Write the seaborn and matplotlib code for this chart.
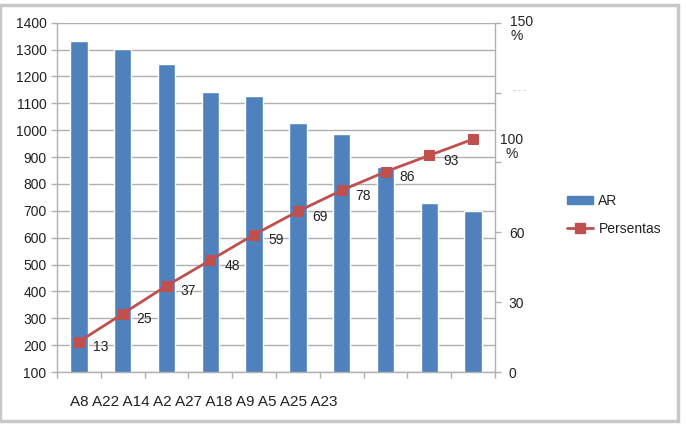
import numpy as np
import pandas as pd
import matplotlib
matplotlib.use("Agg")
import matplotlib.pyplot as plt
import matplotlib.patches as mpatches
import seaborn as sns

categories = ["A8", "A22", "A14", "A2", "A27", "A18", "A9", "A5", "A25", "A23"]
ar_values = [1333, 1301, 1246, 1141, 1127, 1027, 984, 863, 728, 701]
persentas = [13, 25, 37, 48, 59, 69, 78, 86, 93, 100]
label_persentas = ["13", "25", "37", "48", "59", "69", "78", "86", "93", ""]
left_ticks = list(range(100, 1401, 100))
right_ticks = [0, 30, 60, 90, 120, 150]

df = pd.DataFrame({"cat": categories, "AR": ar_values, "Persentas": persentas,
                   "pos": np.arange(len(categories))})

sns.set_theme(style="white")
plt.rcParams["font.family"] = ["Liberation Sans", "DejaVu Sans"]

BLUE = "#4F81BD"
RED = "#C0504D"
GRID = "#b0b0b0"
TXT = "#222222"

fig = plt.figure(figsize=(6.86, 4.26), dpi=100)
ax = fig.add_axes([57 / 686, (426 - 372) / 426, (495 - 57) / 686, (372 - 22.7) / 426])

sns.barplot(data=df, x="cat", y="AR", color=BLUE, saturation=1, width=0.4, ax=ax)
ax.set_ylim(100, 1400)
ax.set_yticks(left_ticks)
ax.set_yticklabels([str(t) for t in left_ticks], fontsize=10, color=TXT)
ax.yaxis.grid(True, color=GRID, linewidth=1)
ax.set_axisbelow(True)
ax.set_xlim(-0.5, len(categories) - 0.5)
ax.set_xticks(np.arange(len(categories) + 1) - 0.5)
ax.set_xticklabels([])
ax.set_xlabel("")
ax.set_ylabel("")
ax.tick_params(axis="both", length=4, color=GRID, width=1, direction="out")
ax.tick_params(axis="x", bottom=True)
ax.tick_params(axis="y", left=True)
for s in ["top", "right"]:
    ax.spines[s].set_visible(False)
for s in ["left", "bottom"]:
    ax.spines[s].set_color(GRID)
    ax.spines[s].set_linewidth(1)

# crowded category labels
ax.text(70 / 686, (426 - 402) / 426, " ".join(categories), transform=fig.transFigure,
        fontsize=11, color=TXT, ha="left", va="center")

ax2 = ax.twinx()
sns.lineplot(data=df, x="pos", y="Persentas", color=RED, marker="s", markersize=7.5,
             markeredgecolor=RED, linewidth=2, ax=ax2, legend=False)
ax2.set_ylim(0, 150)
ax2.set_yticks(right_ticks)
ax2.set_yticklabels(["0", "30", "60", "", "", ""], fontsize=10, color=TXT)
ax2.set_xlabel("")
ax2.set_ylabel("")
ax2.tick_params(axis="y", length=4, color=GRID, width=1, direction="out", right=True, pad=6)
for s in ["top", "left", "bottom"]:
    ax2.spines[s].set_visible(False)
ax2.spines["right"].set_color(GRID)
ax2.spines["right"].set_linewidth(1)

ytr = ax2.get_yaxis_transform()
ax2.text(1.035, 147.5, "150\n%", transform=ytr, fontsize=10, color=TXT,
         ha="left", va="center", multialignment="left", linespacing=1.0)
ax2.text(1.011, 96.5, "100\n%", transform=ytr, fontsize=10, color=TXT,
         ha="left", va="center", multialignment="center", linespacing=1.0)
ax2.text(1.04, 121, "- - -", transform=ytr, fontsize=6, color="#aaaaaa",
         ha="left", va="center")

for p, v, lab in zip(df["pos"], df["Persentas"], label_persentas):
    if lab:
        ax2.annotate(lab, (p, v), xytext=(10, -4), textcoords="offset points",
                     fontsize=10, color=TXT, ha="left", va="center")

handles = [mpatches.Patch(color=BLUE, label="AR"),
           plt.Line2D([], [], color=RED, marker="s", markersize=7, linewidth=2, label="Persentas")]
fig.legend(handles=handles, loc="center left", bbox_to_anchor=(554 / 686, (426 - 215) / 426),
           frameon=False, fontsize=10, handlelength=1.9, handleheight=0.5,
           labelspacing=1.0, handletextpad=0.4, labelcolor=TXT)

fig.patches.append(mpatches.Rectangle((0.0, 0.012), 678 / 686, 0.976, transform=fig.transFigure,
                                      fill=False, edgecolor="#c8c8c8", linewidth=2.5))

fig.savefig("out.png", dpi=100)
